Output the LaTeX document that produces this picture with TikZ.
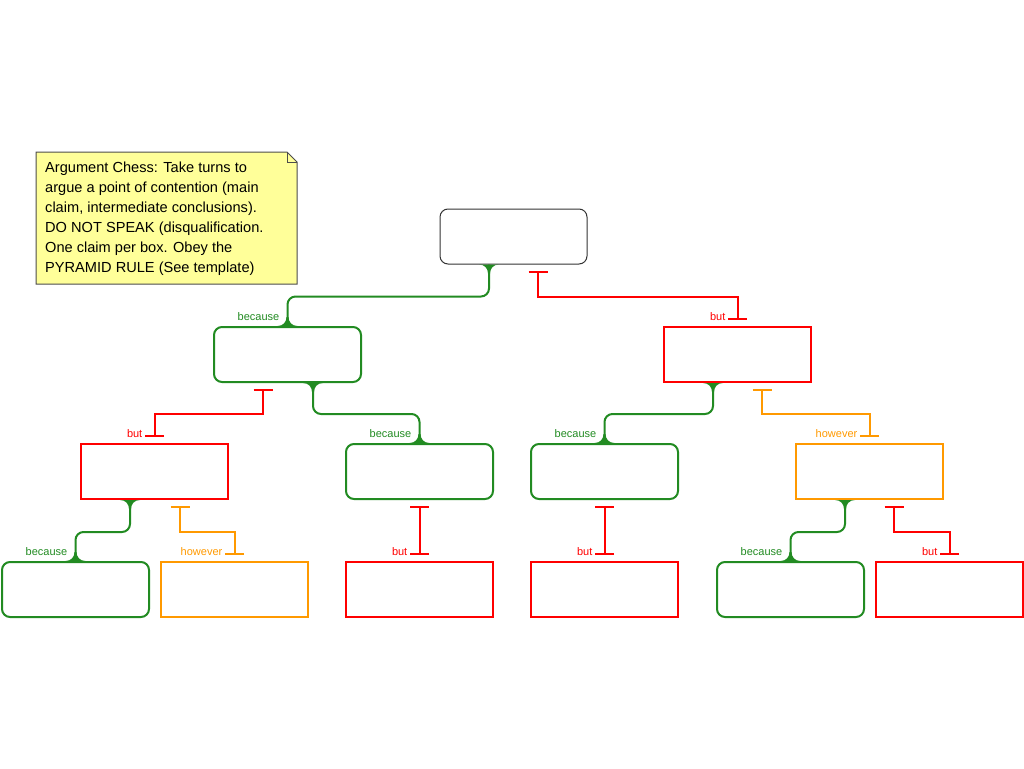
\documentclass[tikz,border=0pt]{standalone}
\usepackage{fontspec}
\setmainfont{Liberation Sans}
\usetikzlibrary{calc,arrows.meta}
\definecolor{becausegreen}{RGB}{34,139,34}
\definecolor{butred}{RGB}{255,0,0}
\definecolor{howorange}{RGB}{255,153,0}
\definecolor{noteyellow}{RGB}{255,255,153}
\tikzset{
  box/.style={minimum width=147pt,minimum height=55pt,line width=2pt,inner sep=0pt},
  claimbox/.style={box,draw=black!80,line width=1pt,rounded corners=8pt},
  greenbox/.style={box,draw=becausegreen,rounded corners=8pt},
  redbox/.style={box,draw=butred},
  orangebox/.style={box,draw=howorange},
  because/.style={draw=becausegreen,line width=2pt,rounded corners=8pt},
  objection/.style={line width=2pt,{Bar[width=19pt,line width=2pt]}-{Bar[width=19pt,line width=2pt]}},
  lbl/.style={font=\fontsize{11}{13}\selectfont,inner sep=0pt,anchor=east},
  flare/.pic={\fill (-10,0) .. controls (-4.5,0) and (-1,4) .. (-1,9) -- (1,9) .. controls (1,4) and (4.5,0) .. (10,0) -- cycle;}
}
\begin{document}
\begin{tikzpicture}[x=1pt,y=-1pt]
\useasboundingbox (0,0) rectangle (1024,768);

% note
\draw[fill=noteyellow,draw=black!70,line width=1pt] (36,152) -- (287,152) -- (297,162) -- (297,284) -- (36,284) -- cycle;
\draw[draw=black!70,line width=1pt] (287,152) -- (287,162) -- (297,162);
\node[anchor=north west,align=left,inner sep=0pt,font=\fontsize{14.6}{20}\selectfont] (note) at (45,162)
  {Argument Chess: Take turns to\\argue a point of contention (main\\claim, intermediate conclusions).\\DO NOT SPEAK (disqualification.\\One claim per box. Obey the\\PYRAMID RULE (See template)};

% boxes
\node[claimbox] (c) at (513.5,236.5) {};
\node[greenbox] (cl) at (287.5,354.5) {};
\node[redbox] (cr) at (737.5,354.5) {};
\node[redbox] (cll) at (154.5,471.5) {};
\node[greenbox] (clr) at (419.5,471.5) {};
\node[greenbox] (crl) at (604.5,471.5) {};
\node[orangebox] (crr) at (869.5,471.5) {};
\node[greenbox] (clll) at (75.5,589.5) {};
\node[orangebox] (cllr) at (234.5,589.5) {};
\node[redbox] (clrb) at (419.5,589.5) {};
\node[redbox] (crlb) at (604.5,589.5) {};
\node[greenbox] (crrl) at (790.5,589.5) {};
\node[redbox] (crrr) at (949.5,589.5) {};

% because
\draw[because] ($(c.south)+(-24.5,0)$) -- ++(0,32) -| (cl.north);
\draw[because] ($(cl.south)+(25.5,0)$) -- ++(0,31) -| (clr.north);
\draw[because] ($(cr.south)+(-24.5,0)$) -- ++(0,31) -| (crl.north);
\draw[because] ($(cll.south)+(-24.5,0)$) -- ++(0,32) -| (clll.north);
\draw[because] ($(crr.south)+(-24.5,0)$) -- ++(0,32) -| (crrl.north);
\begin{scope}[becausegreen]
\pic at ($(c.south)+(-24.5,0)$) {flare};
\pic[yscale=-1] at (cl.north) {flare};
\pic at ($(cl.south)+(25.5,0)$) {flare};
\pic[yscale=-1] at (clr.north) {flare};
\pic at ($(cr.south)+(-24.5,0)$) {flare};
\pic[yscale=-1] at (crl.north) {flare};
\pic at ($(cll.south)+(-24.5,0)$) {flare};
\pic[yscale=-1] at (clll.north) {flare};
\pic at ($(crr.south)+(-24.5,0)$) {flare};
\pic[yscale=-1] at (crrl.north) {flare};
\node[lbl] at ($(cl.north)+(-8,-9)$) {because};
\node[lbl] at ($(clr.north)+(-8,-9)$) {because};
\node[lbl] at ($(crl.north)+(-8,-9)$) {because};
\node[lbl] at ($(clll.north)+(-8,-9)$) {because};
\node[lbl] at ($(crrl.north)+(-8,-9)$) {because};
\end{scope}

% but / however
\draw[objection,butred] ($(c.south)+(24.5,6)$) -- ++(0,26) -| ($(cr.north)+(0,-6)$);
\draw[objection,butred] ($(cl.south)+(-24.5,6)$) -- ++(0,25) -| ($(cll.north)+(0,-6)$);
\draw[objection,howorange] ($(cr.south)+(24.5,6)$) -- ++(0,25) -| ($(crr.north)+(0,-6)$);
\draw[objection,howorange] ($(cll.south)+(25.5,6)$) -- ++(0,26) -| ($(cllr.north)+(0,-6)$);
\draw[objection,butred] ($(clr.south)+(0,6)$) -- ($(clrb.north)+(0,-6)$);
\draw[objection,butred] ($(crl.south)+(0,6)$) -- ($(crlb.north)+(0,-6)$);
\draw[objection,butred] ($(crr.south)+(24.5,6)$) -- ++(0,26) -| ($(crrr.north)+(0,-6)$);
\node[lbl,butred] at ($(cr.north)+(-12,-9)$) {but};
\node[lbl,butred] at ($(cll.north)+(-12,-9)$) {but};
\node[lbl,howorange] at ($(crr.north)+(-12,-9)$) {however};
\node[lbl,howorange] at ($(cllr.north)+(-12,-9)$) {however};
\node[lbl,butred] at ($(clrb.north)+(-12,-9)$) {but};
\node[lbl,butred] at ($(crlb.north)+(-12,-9)$) {but};
\node[lbl,butred] at ($(crrr.north)+(-12,-9)$) {but};
\end{tikzpicture}
\end{document}
